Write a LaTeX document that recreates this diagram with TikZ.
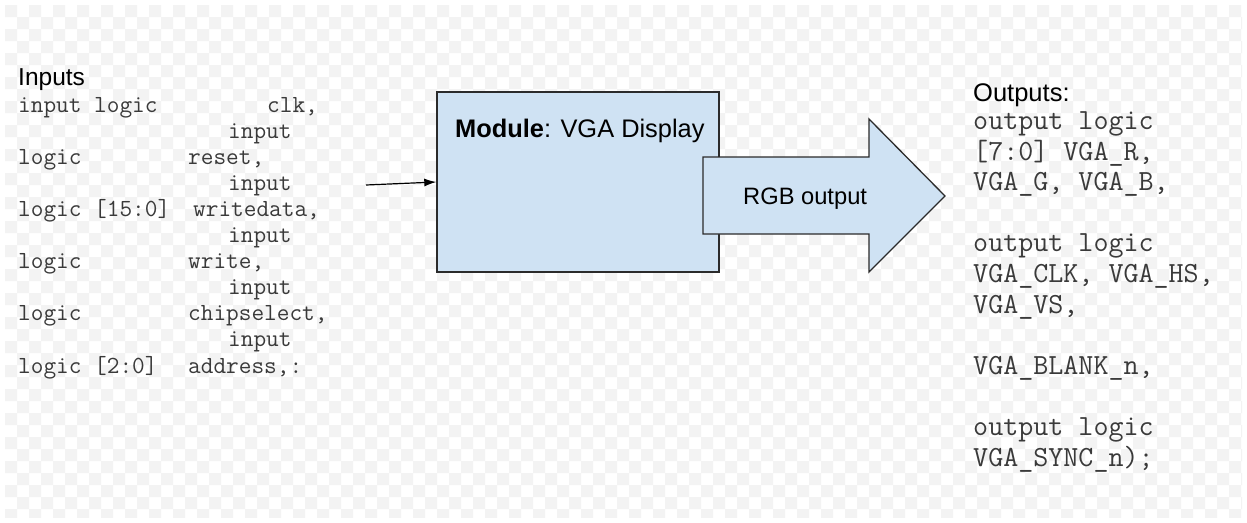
\documentclass[tikz,border=0pt]{standalone}
\usepackage{fontspec}
\setmainfont{Liberation Sans}
\usetikzlibrary{arrows.meta}
\definecolor{chk}{HTML}{F3F3F3}
\definecolor{boxfill}{HTML}{CFE2F3}
\definecolor{edge}{HTML}{2B2B2B}
\definecolor{codecol}{HTML}{3A3A3A}
\tikzset{
  sans/.style={inner sep=0pt, anchor=base west, text=black},
  codein/.style={inner sep=0pt, anchor=base west, text=codecol,
    font=\fontsize{24.6}{26}\selectfont\ttfamily},
  codeout/.style={inner sep=0pt, anchor=base west, text=codecol,
    font=\fontsize{29.2}{31}\selectfont\ttfamily},
  modbox/.style={draw=edge, line width=1.4pt, fill=boxfill, inner sep=0pt},
  bigarrow/.style={draw=edge, line width=1.3pt, fill=boxfill, line join=miter},
  wire/.style={draw=black, line width=1.2pt, -{Latex[length=12pt,width=8pt]}}
}
\begin{document}
\begin{tikzpicture}[x=1pt, y=-1pt]
  % page and faint checkered backdrop
  \fill[white] (0,0) rectangle (1247,522);
  \useasboundingbox (0,0) rectangle (1247,522);
  \begin{scope}
    \clip (5,5) rectangle (1242,517);
    \fill[chk] foreach \r in {0,...,42} {
      foreach \c in {0,2,...,104} {
        ({5+(\c+mod(\r,2))*12},{5+\r*12}) rectangle +(12,12)
      }
    };
  \end{scope}

  % input list
  \node[sans, font=\fontsize{24.5}{26}\selectfont] (inhead) at (18,85) {Inputs};
  \node[codein] (i0a) at (18,112.0) {input logic};
  \node[codein] (i0b) at (267,112.0) {clk,};
  \node[codein] (i1)  at (228,138.1) {input};
  \node[codein] (i2a) at (18,164.2) {logic};
  \node[codein] (i2b) at (188,164.2) {reset,};
  \node[codein] (i3)  at (228,190.3) {input};
  \node[codein] (i4a) at (18,216.4) {logic [15:0]};
  \node[codein] (i4b) at (193,216.4) {writedata,};
  \node[codein] (i5)  at (228,242.5) {input};
  \node[codein] (i6a) at (18,268.6) {logic};
  \node[codein] (i6b) at (188,268.6) {write,};
  \node[codein] (i7)  at (228,294.7) {input};
  \node[codein] (i8a) at (18,320.8) {logic};
  \node[codein] (i8b) at (188,320.8) {chipselect,};
  \node[codein] (i9)  at (228,346.9) {input};
  \node[codein] (i10a) at (18,373.0) {logic [2:0]};
  \node[codein] (i10b) at (188,373.0) {address,:};

  % module block
  \node[modbox, minimum width=282pt, minimum height=180pt] (mod) at (578,182) {};
  \node[sans, font=\fontsize{25.4}{27}\selectfont] (modlabel) at (455,137)
    {\textbf{Module}: VGA Display};

  % incoming connector
  \coordinate (infeed) at (366,185);
  \draw[wire] (infeed) -- (mod.west);

  % RGB output block arrow
  \draw[bigarrow] (703,157) -- (869,157) -- (869,119) -- (945,196)
    -- (869,272) -- (869,234) -- (703,234) -- cycle;
  \node[sans, font=\fontsize{23.7}{25}\selectfont] (rgb) at (743,204) {RGB output};

  % output list
  \node[sans, font=\fontsize{25.5}{27}\selectfont] (outhead) at (973,101.5) {Outputs:};
  \node[codeout] (o0)  at (973,129.5) {output logic};
  \node[codeout] (o1)  at (973,160.1) {[7:0] VGA\_R,};
  \node[codeout] (o2)  at (973,190.7) {VGA\_G, VGA\_B,};
  \node[codeout] (o4)  at (973,251.9) {output logic};
  \node[codeout] (o5)  at (973,282.5) {VGA\_CLK, VGA\_HS,};
  \node[codeout] (o6)  at (973,313.1) {VGA\_VS,};
  \node[codeout] (o8)  at (973,374.3) {VGA\_BLANK\_n,};
  \node[codeout] (o10) at (973,435.5) {output logic};
  \node[codeout] (o11) at (973,466.1) {VGA\_SYNC\_n);};
\end{tikzpicture}
\end{document}
